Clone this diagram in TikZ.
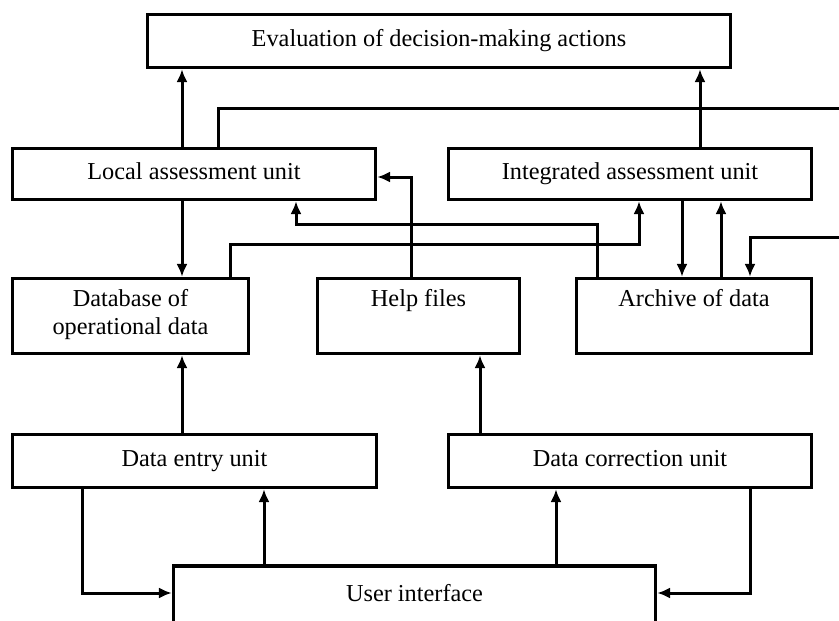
\documentclass[tikz,border=0pt]{standalone}
\usepackage{fontspec}
\setmainfont{Liberation Serif}
\usetikzlibrary{arrows.meta}

\begin{document}
\begin{tikzpicture}[
      x=1pt, y=-1pt,
      font=\fontsize{24.3}{28}\selectfont,
      line width=3.2pt,
      box/.style={draw, inner sep=0pt, align=center, execute at begin node=\strut},
      conn/.style={-{Latex[length=13pt,width=11pt]}, line width=3pt}
    ]
      \useasboundingbox (0,0) rectangle (839,621);

      \node[box, minimum width=583pt, minimum height=53pt] (top) at (439,41) {Evaluation of decision-making actions};
      \node[box, minimum width=363pt, minimum height=51pt] (local) at (194,174) {Local assessment unit};
      \node[box, minimum width=363pt, minimum height=51pt] (integ) at (630,174) {Integrated assessment unit};

      \node[box, minimum width=236pt, minimum height=75pt] (db) at (130.5,316) {Database of\\operational data};
      \node[box, minimum width=202pt, minimum height=75pt] (help) at (418.5,316) {Help files\\\strut};
      \node[box, minimum width=235pt, minimum height=75pt] (archive) at (694,316) {Archive of data\\\strut};

      \node[box, minimum width=364pt, minimum height=53pt] (entry) at (194.5,461) {Data entry unit};
      \node[box, minimum width=363pt, minimum height=53pt] (corr) at (630,461) {Data correction unit};
      \node[box, minimum width=482pt, minimum height=60pt] (ui) at (414.5,596) {User interface};

      \coordinate (outA) at (839,108);
      \coordinate (outB) at (839,237);

      \draw[conn] ([xshift=-12pt]local.north) -- ([xshift=-12pt]local.north |- top.south);
      \draw[conn] ([xshift=70pt]integ.north) -- ([xshift=70pt]integ.north |- top.south);
      \draw[line width=3pt] ([xshift=24pt]local.north) |- (outA);
      \draw[conn] ([xshift=-12pt]local.south) -- ([xshift=-12pt]local.south |- db.north);
      \draw[conn] ([xshift=99.5pt]db.north) -- ++(0,-32) -| ([xshift=9pt]integ.south);
      \draw[conn] ([xshift=-97pt]archive.north) -- ++(0,-52) -| ([xshift=102pt]local.south);
      \draw[conn] ([xshift=-7.5pt]help.north) |- ([yshift=-3pt]local.east);
      \draw[conn] ([xshift=52pt]integ.south) -- ([xshift=52pt]integ.south |- archive.north);
      \draw[conn] ([xshift=27pt]archive.north) -- ([xshift=27pt]archive.north |- integ.south);
      \draw[conn] (outB) -| ([xshift=56pt]archive.north);

      \draw[conn] ([xshift=-12.5pt]entry.north) -- ([xshift=-12.5pt]entry.north |- db.south);
      \draw[conn] ([xshift=-150pt]corr.north) -- ([xshift=-150pt]corr.north |- help.south);
      \draw[conn] ([xshift=-112.5pt]entry.south) |- ([yshift=3pt]ui.west);
      \draw[conn] ([xshift=-150.5pt]ui.north) -- ([xshift=-150.5pt]ui.north |- entry.south);
      \draw[conn] ([xshift=141.5pt]ui.north) -- ([xshift=141.5pt]ui.north |- corr.south);
      \draw[conn] ([xshift=120pt]corr.south) |- ([yshift=3pt]ui.east);
    \end{tikzpicture}
\end{document}
